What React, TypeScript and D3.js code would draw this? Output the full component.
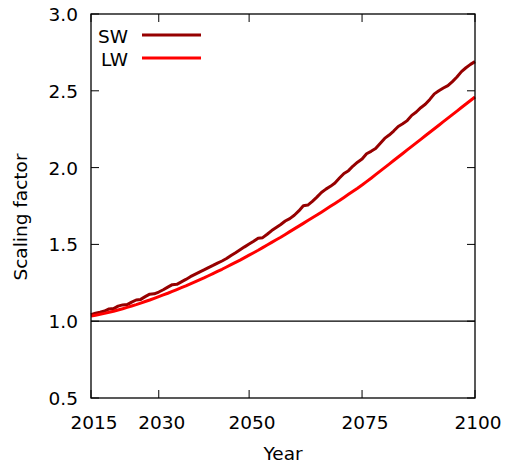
import React from "react";
import * as d3 from "d3";

// Yearly scaling factors, 2015–2100
const years: number[] = d3.range(2015, 2101);

const swValues: number[] = [
  1.042, 1.052, 1.058, 1.066, 1.080, 1.082, 1.098, 1.106, 1.108, 1.124,
  1.138, 1.142, 1.160, 1.176, 1.178, 1.190, 1.205, 1.222, 1.238, 1.240,
  1.256, 1.272, 1.290, 1.305, 1.320, 1.334, 1.349, 1.363, 1.378, 1.392,
  1.408, 1.428, 1.446, 1.465, 1.484, 1.502, 1.520, 1.540, 1.544, 1.566,
  1.590, 1.610, 1.630, 1.652, 1.668, 1.690, 1.718, 1.752, 1.756, 1.780,
  1.808, 1.838, 1.860, 1.878, 1.900, 1.932, 1.962, 1.980, 2.010, 2.035,
  2.056, 2.090, 2.106, 2.124, 2.157, 2.190, 2.212, 2.238, 2.268, 2.285,
  2.306, 2.340, 2.362, 2.390, 2.412, 2.444, 2.480, 2.500, 2.518, 2.534,
  2.560, 2.590, 2.625, 2.650, 2.672, 2.690,
];

const lwValues: number[] = [
  1.033, 1.039, 1.045, 1.051, 1.058, 1.065, 1.073, 1.081, 1.090, 1.099,
  1.108, 1.118, 1.128, 1.138, 1.149, 1.160, 1.171, 1.182, 1.194, 1.206,
  1.218, 1.230, 1.243, 1.256, 1.269, 1.282, 1.296, 1.310, 1.324, 1.338,
  1.353, 1.368, 1.383, 1.398, 1.414, 1.430, 1.446, 1.462, 1.479, 1.496,
  1.513, 1.530, 1.547, 1.565, 1.583, 1.601, 1.619, 1.637, 1.655, 1.673,
  1.691, 1.710, 1.729, 1.748, 1.767, 1.786, 1.806, 1.826, 1.846, 1.866,
  1.887, 1.909, 1.931, 1.954, 1.977, 2.000, 2.023, 2.046, 2.069, 2.092,
  2.115, 2.138, 2.161, 2.184, 2.207, 2.230, 2.253, 2.276, 2.299, 2.322,
  2.345, 2.368, 2.391, 2.414, 2.437, 2.460,
];

const xTicks: number[] = [2015, 2030, 2050, 2075, 2100];
const yTicks: number[] = [0.5, 1.0, 1.5, 2.0, 2.5, 3.0];

const series = [
  { name: "SW", values: swValues, color: "#960000" },
  { name: "LW", values: lwValues, color: "#ff0000" },
];

const W = 506;
const H = 464;
const left = 91;
const right = 475;
const top = 14;
const bottom = 398;
const FONT = "'DejaVu Sans', sans-serif";
const FS = 18.5;

export default function App() {
  const x = d3.scaleLinear().domain([2015, 2100]).range([left, right]);
  const y = d3.scaleLinear().domain([0.5, 3.0]).range([bottom, top]);
  const line = d3
    .line<number>()
    .x((_, i) => x(years[i]))
    .y((v) => y(v));
  const tickLen = 8;

  return (
    <svg
      width={W}
      height={H}
      style={{ position: "absolute", left: 0, top: 0, background: "#fff" }}
      fontFamily={FONT}
      fontSize={FS}
    >
      <rect x={0} y={0} width={W} height={H} fill="#fff" />

      {/* reference line at 1.0 */}
      <line x1={left} x2={right} y1={y(1)} y2={y(1)} stroke="#000" strokeWidth={1.2} />

      {/* y ticks (both sides, inward) and labels */}
      {yTicks.map((t) => (
        <g key={"y" + t}>
          <line x1={left} x2={left + tickLen} y1={y(t)} y2={y(t)} stroke="#000" strokeWidth={1} />
          <line x1={right} x2={right - tickLen} y1={y(t)} y2={y(t)} stroke="#000" strokeWidth={1} />
          <text x={78} y={y(t) + 7} textAnchor="end" fill="#000">
            {t.toFixed(1)}
          </text>
        </g>
      ))}

      {/* x ticks (top and bottom, inward) and labels */}
      {xTicks.map((t) => (
        <g key={"x" + t}>
          <line x1={x(t)} x2={x(t)} y1={bottom} y2={bottom - tickLen} stroke="#000" strokeWidth={1} />
          <line x1={x(t)} x2={x(t)} y1={top} y2={top + tickLen} stroke="#000" strokeWidth={1} />
          <text x={x(t) + 3} y={429} textAnchor="middle" fill="#000">
            {t}
          </text>
        </g>
      ))}

      {/* data lines */}
      {series.map((s) => (
        <path
          key={s.name}
          d={line(s.values) ?? ""}
          fill="none"
          stroke={s.color}
          strokeWidth={3}
          strokeLinejoin="round"
        />
      ))}

      {/* frame */}
      <rect
        x={left}
        y={top}
        width={right - left}
        height={bottom - top}
        fill="none"
        stroke="#000"
        strokeWidth={1.3}
      />

      {/* legend */}
      {series.map((s, i) => (
        <g key={"leg" + s.name}>
          <text x={128} y={43 + i * 22.5} textAnchor="end" fill="#000">
            {s.name}
          </text>
          <line
            x1={142}
            x2={201}
            y1={35 + i * 23}
            y2={35 + i * 23}
            stroke={s.color}
            strokeWidth={3}
          />
        </g>
      ))}

      {/* axis titles */}
      <text x={283} y={460} textAnchor="middle" fill="#000">
        Year
      </text>
      <text
        transform="translate(27, 217) rotate(-90)"
        textAnchor="middle"
        fill="#000"
      >
        Scaling factor
      </text>
    </svg>
  );
}
